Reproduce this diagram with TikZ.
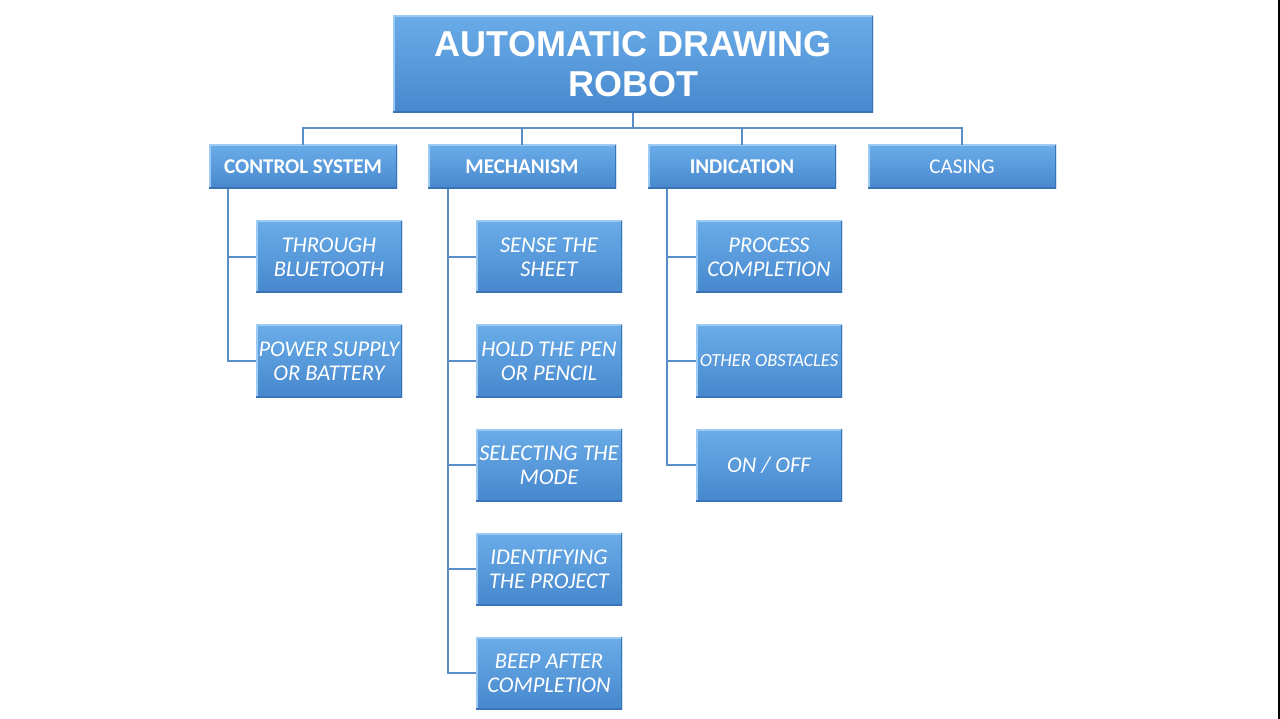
\documentclass[tikz,border=0pt]{standalone}
\usepackage{fontspec}
\setmainfont{Carlito}
\newfontfamily\titlefont{Liberation Sans}
\definecolor{boxtop}{HTML}{6AACE8}
\definecolor{boxbot}{HTML}{4788CE}
\definecolor{boxlight}{HTML}{9CCAF2}
\definecolor{boxdark}{HTML}{3A74B4}
\definecolor{linkcol}{HTML}{5B8EC6}
\tikzset{
  bevelbox/.style={rectangle, inner sep=0pt, text=white, align=center,
    top color=boxtop, bottom color=boxbot, draw=none,
    path picture={
      \draw[boxlight,line width=3pt] (path picture bounding box.south west) -- (path picture bounding box.north west) -- (path picture bounding box.north east);
      \draw[boxdark,line width=3pt] (path picture bounding box.north east) -- (path picture bounding box.south east) -- (path picture bounding box.south west);
    }},
  titlebox/.style={bevelbox, minimum width=480pt, minimum height=97pt,
    font=\titlefont\bfseries\fontsize{36}{40}\selectfont},
  headbox/.style={bevelbox, minimum width=188pt, minimum height=44pt,
    font=\bfseries\fontsize{21}{24}\selectfont},
  childbox/.style={bevelbox, minimum width=146pt, minimum height=72pt,
    font=\itshape\fontsize{22.5}{24}\selectfont},
  link/.style={draw=linkcol, line width=1.5pt}
}
\begin{document}
\begin{tikzpicture}[x=1pt,y=-1pt]
\useasboundingbox[fill=white] (0,0) rectangle (1280,719);
\fill[black] (1278,0) rectangle (1280,719);
% title
\node[titlebox] (title) at (633,64.5) {AUTOMATIC DRAWING\\ROBOT};
% headers
\node[headbox] (ctrl) at (303,167) {CONTROL SYSTEM};
\node[headbox] (mech) at (522,167) {MECHANISM};
\node[headbox] (ind) at (742,167) {INDICATION};
\node[headbox, font=\fontsize{21}{24}\selectfont] (cas) at (962,167) {CASING};
% children control
\node[childbox] (c1) at (329,257) {THROUGH\\BLUETOOTH};
\node[childbox] (c2) at (329,361) {POWER SUPPLY\\OR BATTERY};
% children mechanism
\node[childbox] (m1) at (549,257) {SENSE THE\\SHEET};
\node[childbox] (m2) at (549,361) {HOLD THE PEN\\OR PENCIL};
\node[childbox] (m3) at (549,465) {SELECTING THE\\MODE};
\node[childbox] (m4) at (549,569) {IDENTIFYING\\THE PROJECT};
\node[childbox] (m5) at (549,673) {BEEP AFTER\\COMPLETION};
% children indication
\node[childbox] (i1) at (769,257) {PROCESS\\COMPLETION};
\node[childbox, font=\itshape\fontsize{18.5}{20}\selectfont] (i2) at (769,361) {OTHER OBSTACLES};
\node[childbox] (i3) at (769,465) {ON / OFF};
% connectors from title
\coordinate (bus) at (633,128);
\draw[link] (title.south) -- (bus);
\foreach \h in {ctrl,mech,ind,cas}{
  \draw[link] (bus) -| (\h.north);
}
% column connectors
\draw[link] (ctrl.south -| 228,0) |- (c2.west);
\draw[link] (ctrl.south -| 228,0) |- (c1.west);
\draw[link] (mech.south -| 448,0) |- (m5.west);
\foreach \c in {m1,m2,m3,m4}{
  \draw[link] (mech.south -| 448,0) |- (\c.west);
}
\draw[link] (ind.south -| 667,0) |- (i3.west);
\foreach \c in {i1,i2}{
  \draw[link] (ind.south -| 667,0) |- (\c.west);
}
\end{tikzpicture}
\end{document}
